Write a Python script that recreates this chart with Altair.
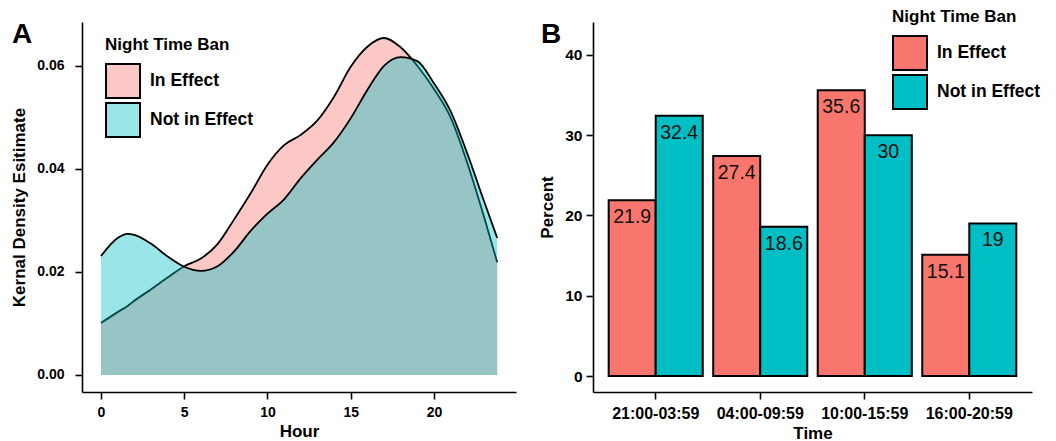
import altair as alt
import pandas as pd

# ---------------- data ----------------
groups = ["In Effect", "Not in Effect"]

hours = [0, 1, 1.6, 2, 3, 4, 5, 6, 7, 8, 9, 10, 11, 12, 13, 14, 15, 16, 17, 18, 19, 20, 21, 22, 23, 23.8]
in_effect_density = [0.0101, 0.0122, 0.0134, 0.0144, 0.0166, 0.0189, 0.0211, 0.0226, 0.0254, 0.0302,
                     0.0353, 0.0408, 0.0446, 0.0466, 0.0494, 0.0540, 0.0598, 0.0637, 0.0654, 0.0636,
                     0.0600, 0.0555, 0.0500, 0.0412, 0.0308, 0.0219]
not_in_effect_density = [0.0231, 0.0266, 0.0274, 0.0272, 0.0255, 0.0230, 0.0210, 0.0202, 0.0211, 0.0240,
                         0.0280, 0.0313, 0.0341, 0.0382, 0.0418, 0.0452, 0.0498, 0.0553, 0.0600, 0.0617,
                         0.0609, 0.0566, 0.0512, 0.0430, 0.0338, 0.0266]

times = ["21:00-03:59", "04:00-09:59", "10:00-15:59", "16:00-20:59"]
in_effect_pct = [21.9, 27.4, 35.6, 15.1]
not_in_effect_pct = [32.4, 18.6, 30, 19]

full_colors = ["#F8766D", "#00BFC4"]
light_colors = ["#FCC8C5", "#99E5E7"]
FONT = "Liberation Sans"

# ---------------- tables ----------------
df_a = pd.DataFrame(
    {"hour": hours * 2,
     "density": in_effect_density + not_in_effect_density,
     "group": [groups[0]] * len(hours) + [groups[1]] * len(hours)}
)
rows = []
for t, a, b in zip(times, in_effect_pct, not_in_effect_pct):
    rows.append({"time": t, "group": groups[0], "pct": a, "label": f"{a:g}"})
    rows.append({"time": t, "group": groups[1], "pct": b, "label": f"{b:g}"})
df_b = pd.DataFrame(rows)

LEGEND_STYLE = dict(title="Night Time Ban", orient="none",
                    symbolType="square", symbolSize=1156,
                    symbolStrokeColor="black", symbolStrokeWidth=2,
                    symbolOpacity=1, labelOffset=9, rowPadding=-4,
                    titlePadding=9, padding=0)

# ---------------- panel A ----------------
xa = alt.X("hour:Q",
           scale=alt.Scale(domain=[-1.14, 24.93], nice=False, zero=False),
           axis=alt.Axis(values=[0, 5, 10, 15, 20], title="Hour", labelPadding=6))
ya = alt.Y("density:Q",
           scale=alt.Scale(domain=[-0.0033, 0.0685], nice=False, zero=False),
           axis=alt.Axis(values=[0, 0.02, 0.04, 0.06], format=".2f",
                         title="Kernal Density Esitimate", labelPadding=11, titlePadding=8))

base_a = alt.Chart(df_a)


def area_layer(g, col):
    return base_a.transform_filter(alt.datum.group == g).mark_area(
        interpolate="monotone", fill=col, fillOpacity=0.4, strokeWidth=0
    ).encode(x=xa, y=ya, y2=alt.datum(0))


def line_layer(g):
    return base_a.transform_filter(alt.datum.group == g).mark_line(
        interpolate="monotone", color="black", strokeWidth=1.8
    ).encode(x=xa, y=ya)


legend_a = base_a.transform_filter("datum.density < -1").mark_square(opacity=1).encode(
    x=xa, y=ya,
    color=alt.Color("group:N",
                    scale=alt.Scale(domain=groups, range=light_colors),
                    legend=alt.Legend(legendX=23, legendY=15, **LEGEND_STYLE))
)

label_a = alt.Chart(pd.DataFrame({"p": ["A"]})).mark_text(
    align="left", baseline="middle", fontSize=28, fontWeight="bold", font=FONT, color="black"
).encode(x=alt.value(-70), y=alt.value(13), text="p:N")

panel_a = alt.layer(
    area_layer(groups[0], full_colors[0]),
    line_layer(groups[0]),
    area_layer(groups[1], full_colors[1]),
    line_layer(groups[1]),
    legend_a,
    label_a,
).properties(width=434, height=370)

# ---------------- panel B ----------------
xb = alt.X("time:N", sort=times,
           scale=alt.Scale(paddingInner=0.1, paddingOuter=0.15),
           axis=alt.Axis(title="Time", labelAngle=0, labelFontSize=16, labelPadding=6))
xob = alt.XOffset("group:N", sort=groups, scale=alt.Scale(paddingInner=0, paddingOuter=0))
yb = alt.Y("pct:Q",
           scale=alt.Scale(domain=[-1.99, 44.09], nice=False, zero=False),
           axis=alt.Axis(values=[0, 10, 20, 30, 40], title="Percent",
                         labelFontSize=15.5, labelPadding=4, titlePadding=8))

base_b = alt.Chart(df_b)

bars = base_b.mark_bar(stroke="black", strokeWidth=2).encode(
    x=xb, xOffset=xob, y=yb, y2=alt.datum(0),
    color=alt.Color("group:N",
                    scale=alt.Scale(domain=groups, range=full_colors),
                    legend=alt.Legend(legendX=299, legendY=-13, **LEGEND_STYLE))
)

bar_text = base_b.mark_text(baseline="middle", dy=17, fontSize=19.5, font=FONT, color="#111111").encode(
    x=xb, xOffset=xob, y=yb, text="label:N"
)

label_b = alt.Chart(pd.DataFrame({"p": ["B"]})).mark_text(
    align="left", baseline="middle", fontSize=28, fontWeight="bold", font=FONT, color="black"
).encode(x=alt.value(-52), y=alt.value(13), text="p:N")

panel_b = alt.layer(bars, bar_text, label_b).properties(width=439, height=370)

chart = alt.hconcat(panel_a, panel_b, spacing=22).resolve_scale(color="independent").properties(
    padding={"left": 2, "top": 1, "right": 0, "bottom": 0}
).configure_view(stroke=None).configure_axis(
    grid=False, domainColor="black", domainWidth=1.6, tickColor="black", tickWidth=1.6, tickSize=7,
    labelColor="black", labelFont=FONT, labelFontWeight="bold", labelFontSize=14,
    titleColor="black", titleFont=FONT, titleFontWeight="bold", titleFontSize=17,
).configure_legend(
    titleFont=FONT, titleFontSize=17, titleFontWeight="bold", titleColor="black",
    labelFont=FONT, labelFontSize=17.5, labelFontWeight="bold", labelColor="black",
).configure_text(font=FONT)

chart.save("out.html", embed_options={"renderer": "svg", "actions": False})
